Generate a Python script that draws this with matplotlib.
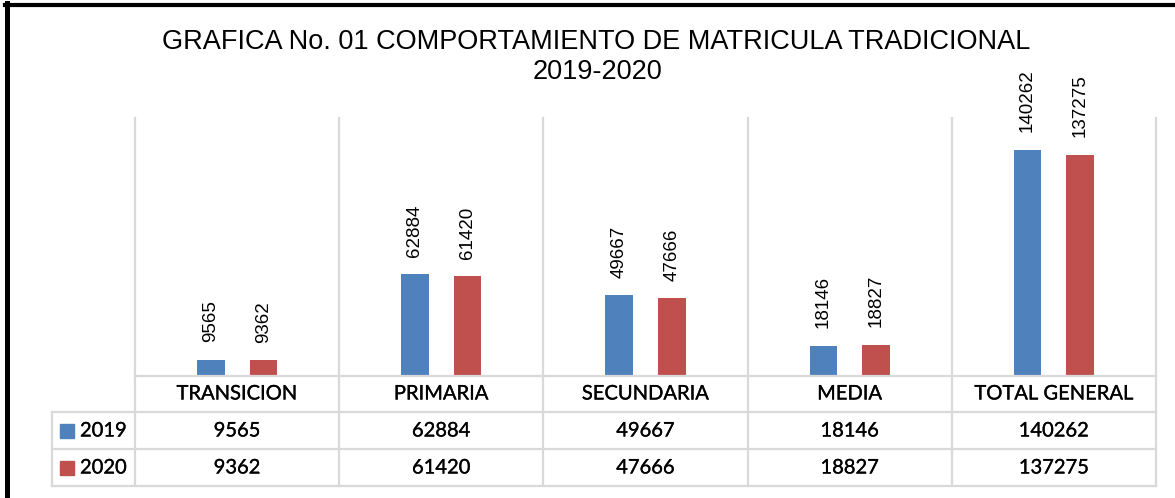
import numpy as np
import matplotlib.pyplot as plt
from matplotlib.lines import Line2D
from matplotlib.patches import Rectangle
import matplotlib.patheffects as pe

categorias = ['TRANSICION', 'PRIMARIA', 'SECUNDARIA', 'MEDIA', 'TOTAL GENERAL']
series = ['2019', '2020']
valores_2019 = [9565, 62884, 49667, 18146, 140262]
valores_2020 = [9362, 61420, 47666, 18827, 137275]
colores = ['#4F81BD', '#C0504D']
gris = '#D9D9D9'

W, H = 1175, 498
fig = plt.figure(figsize=(W / 100, H / 100), dpi=100)

# area de la grafica en pixeles
x0, x1, ytop, ybase = 135, 1156, 118, 375
ax = fig.add_axes([x0 / W, (H - ybase) / H, (x1 - x0) / W, (ybase - ytop) / H])
ax_h = ybase - ytop

def py(y):
    # pixel vertical -> fraccion del eje
    return (ybase - y) / ax_h

n = len(categorias)
x = np.arange(n)
ancho = 0.135
desp = 0.129
b1 = ax.bar(x - desp, valores_2019, ancho, color=colores[0])
b2 = ax.bar(x + desp, valores_2020, ancho, color=colores[1])
for b in (b1, b2):
    ax.bar_label(b, rotation=90, padding=12.5, fontsize=13.5,
                 family='Liberation Sans', color='black')

ax.set_xlim(-0.5, n - 0.5)
ax.set_ylim(0, 160000)
ax.set_xticks([])
ax.set_yticks([])
for s in ax.spines.values():
    s.set_visible(False)

tr = ax.get_xaxis_transform()
# lineas verticales de categoria (grafica + tabla)
for i in range(n + 1):
    ax.plot([i - 0.5, i - 0.5], [py(486), 1], color=gris, lw=1.6,
            transform=tr, clip_on=False)

# lineas horizontales de la tabla
filas_y = [375.5, 411.5, 449, 486]
for j, yy in enumerate(filas_y):
    xa = -0.5 if j == 0 else -0.5 - (135 - 52) / 204.2
    ax.plot([xa, n - 0.5], [py(yy), py(yy)], color=gris, lw=1.6,
            transform=tr, clip_on=False)
xl = -0.5 - (135 - 52) / 204.2
ax.plot([xl, xl], [py(411.5), py(486)], color=gris, lw=1.6,
        transform=tr, clip_on=False)

grueso = [pe.withStroke(linewidth=0.2, foreground='black')]
fuente_tabla = dict(family='Lato', fontsize=14.5, color='black',
                    ha='center', va='center', transform=tr, clip_on=False,
                    path_effects=grueso)
for i, c in enumerate(categorias):
    ax.text(i, py(394), c, **fuente_tabla)
    ax.text(i, py(431), str(valores_2019[i]), **fuente_tabla)
    ax.text(i, py(468), str(valores_2020[i]), **fuente_tabla)

# leyenda en la tabla
for j, (s, yy) in enumerate(zip(series, [431, 468])):
    fig.patches.append(Rectangle((60 / W, (H - yy - 7) / H), 13.5 / W, 14 / H,
                                 color=colores[j], transform=fig.transFigure))
    fig.text(80 / W, (H - yy) / H, s, family='Lato', fontsize=14.5,
             ha='left', va='center', path_effects=grueso)

fig.text(596 / W, (H - 42) / H,
         'GRAFICA No. 01 COMPORTAMIENTO DE MATRICULA TRADICIONAL',
         family='Liberation Sans', fontsize=19.5, ha='center', va='center')
fig.text(597 / W, (H - 72) / H, '2019-2020',
         family='Liberation Sans', fontsize=19.5, ha='center', va='center')

# borde negro (arriba e izquierda)
fig.add_artist(Line2D([4.5 / W, 1], [1 - 5 / H, 1 - 5 / H], color='black',
                      lw=3, transform=fig.transFigure))
fig.add_artist(Line2D([6.5 / W, 6.5 / W], [0, 1 - 3 / H], color='black',
                      lw=3.6, transform=fig.transFigure))

fig.savefig('out.png', dpi=100)
